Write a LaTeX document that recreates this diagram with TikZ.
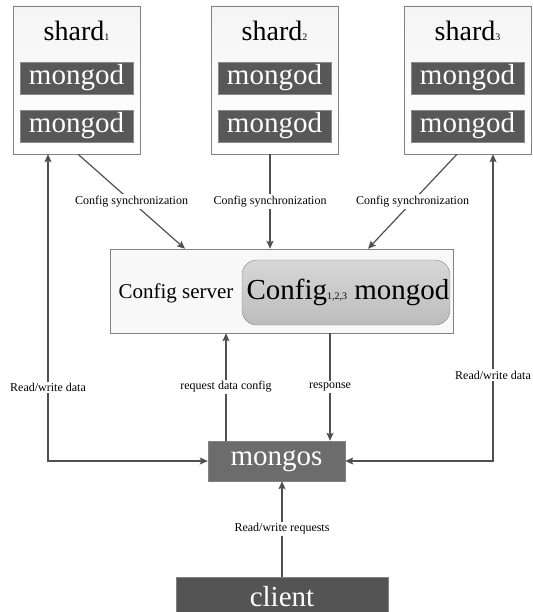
\documentclass[tikz,border=0pt]{standalone}
\usepackage{fontspec}
\setmainfont{Liberation Serif}
\usepackage{xcolor}
\usepackage{tikz}
\usetikzlibrary{arrows.meta, positioning, calc, shadows}
\definecolor{shardgray}{RGB}{238, 238, 238}
\definecolor{mongodgray}{RGB}{88, 88, 88}
\definecolor{mongosgray}{RGB}{108, 108, 108}
\definecolor{clientgray}{RGB}{84, 84, 84}
\definecolor{cfggray}{RGB}{248, 248, 248}
\definecolor{cfginner}{RGB}{198, 198, 198}
\definecolor{edgegray}{RGB}{130, 130, 130}
\definecolor{linegray}{RGB}{80, 80, 80}
\newcommand{\subidx}[1]{{\fontsize{10}{10}\selectfont #1}}
\tikzset{
    shardbox/.style={rectangle, draw=edgegray, top color=shardgray!60, bottom color=shardgray!110!black,
        minimum width=127pt, minimum height=148pt, inner sep=0pt},
    mongodbox/.style={rectangle, draw=mongodgray!70, fill=mongodgray, text=white,
        minimum width=113pt, minimum height=32pt, inner sep=0pt,
        font=\fontsize{29}{29}\selectfont,
        drop shadow={opacity=0.35, shadow xshift=1.2pt, shadow yshift=-1.2pt}},
    titletext/.style={font=\fontsize{28}{28}\selectfont, inner sep=0pt},
    cfgbox/.style={rectangle, draw=edgegray, fill=cfggray,
        minimum width=343pt, minimum height=84pt, inner sep=0pt},
    cfginbox/.style={rectangle, rounded corners=15pt, draw=edgegray, top color=cfginner!70, bottom color=cfginner!95!black,
        minimum width=208pt, minimum height=65pt, inner sep=0pt,
        font=\fontsize{29}{29}\selectfont},
    darkbox/.style={rectangle, draw=edgegray, fill=mongosgray, text=white,
        inner sep=0pt, font=\fontsize{29}{29}\selectfont,
        drop shadow={opacity=0.3, shadow xshift=1.2pt, shadow yshift=-1.2pt}},
    lbl/.style={fill=white, inner sep=1.5pt, font=\fontsize{12}{12}\selectfont, text=black},
    arrow/.style={line width=1.2pt, -{Stealth[length=8pt, width=7pt, inset=1.5pt]}, draw=linegray},
    arrowboth/.style={line width=1.2pt, {Stealth[length=8pt, width=7pt, inset=1.5pt]}-{Stealth[length=8pt, width=7pt, inset=1.5pt]}, draw=linegray},
}

\begin{document}
\begin{tikzpicture}[x=1pt, y=-1pt]
    \useasboundingbox (0,0) rectangle (532,612);
    % shards
    \foreach \i/\xc in {1/76.5, 2/274.5, 3/467.5} {
        \node[shardbox] (shard\i) at (\xc,80) {};
        \node[titletext] (title\i) at (\xc,31) {shard\subidx{\i}};
        \node[mongodbox] (mongodA\i) at (\xc,78) {mongod};
        \node[mongodbox] (mongodB\i) at (\xc,126) {mongod};
    }
    % config server
    \node[cfgbox] (config) at (281.5,291) {};
    \node[font=\fontsize{21}{21}\selectfont, inner sep=0pt] (cfglabel) at (176,293) {Config server};
    \node[cfginbox] (cfginner) at (346,292.5) {\hspace{4pt}Config\subidx{1,2,3} mongod};
    % mongos and client
    \node[darkbox, minimum width=137pt, minimum height=40pt] (mongos) at (276.5,461) {mongos};
    \node[darkbox, fill=clientgray, minimum width=212pt, minimum height=40pt] (client) at (282,597) {client};

    % config synchronization
    \draw[arrow] ([xshift=1.5pt]shard1.south) -- node[lbl] {Config synchronization} ([xshift=-96.5pt]config.north);
    \draw[arrow] ([xshift=-4.5pt]shard2.south) -- node[lbl] {Config synchronization} ([xshift=-11.5pt]config.north);
    \draw[arrow] ([xshift=-10.5pt]shard3.south) -- node[lbl] {Config synchronization} ([xshift=86.5pt]config.north);

    % read/write data
    \draw[arrowboth] ([xshift=-28.5pt]shard1.south) |- node[lbl, pos=0.38] {Read/write data} (mongos.west);
    \draw[arrowboth] ([xshift=25.5pt]shard3.south) |- node[lbl, pos=0.36] {Read/write data} (mongos.east);

    % mongos <-> config
    \draw[arrow] ([xshift=-50.5pt]mongos.north) -- node[lbl] {request data config} ([xshift=-55.5pt]config.south);
    \draw[arrow] ([xshift=48.5pt]config.south) -- node[lbl] {response} ([xshift=53.5pt]mongos.north);

    % client
    \draw[arrow] (client.north) -- node[lbl] {Read/write requests} (client.north |- mongos.south);
\end{tikzpicture}
\end{document}
